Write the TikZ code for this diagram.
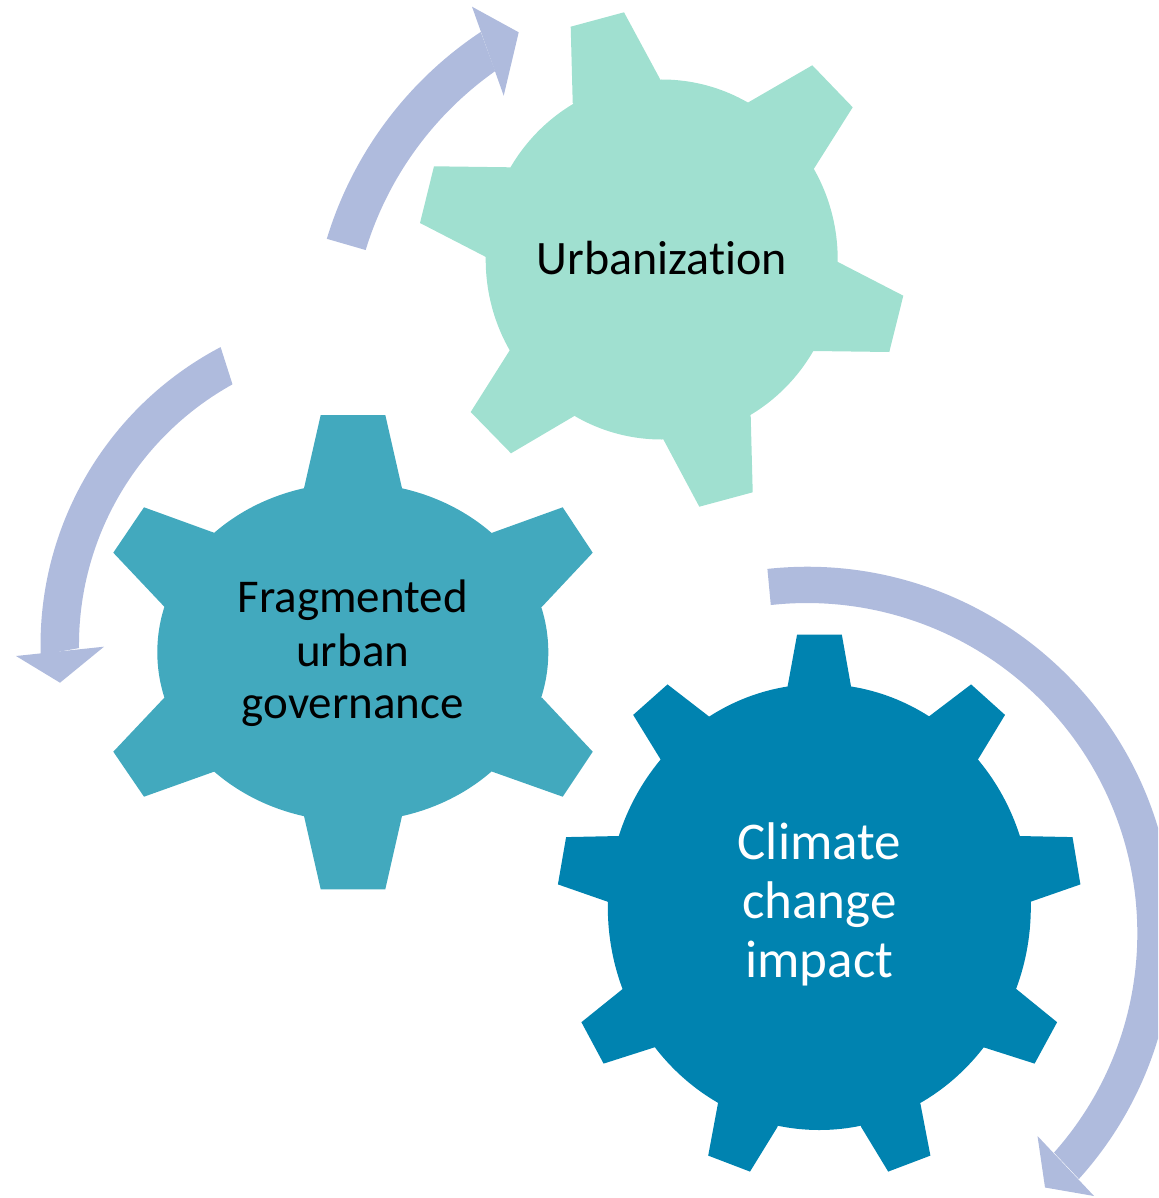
\documentclass[tikz,border=0pt]{standalone}
\usepackage{fontspec}
\setmainfont{Carlito}[Ligatures=NoCommon]
\definecolor{urbfill}{HTML}{A0E0D0}
\definecolor{govfill}{HTML}{42A9BE}
\definecolor{climfill}{HTML}{0083B0}
\definecolor{arrowfill}{HTML}{AFBBDD}
\begin{document}
\begin{tikzpicture}[x=1pt,y=-1pt,
  urbgear/.style={fill=urbfill},
  govgear/.style={fill=govfill},
  climgear/.style={fill=climfill},
  cyclearrow/.style={fill=arrowfill},
  urbtext/.style={anchor=base,inner sep=0pt,text=black,font=\fontsize{48}{58}\selectfont},
  govtext/.style={anchor=base,inner sep=0pt,text=black,font=\fontsize{47}{56}\selectfont},
  climtext/.style={anchor=base,inner sep=0pt,text=white,font=\fontsize{53}{64}\selectfont}]
\useasboundingbox (0,0) rectangle (1158,1198);
\clip (0,0) rectangle (1158,1198);

% ---------- arrows ----------
\fill[cyclearrow] (326.8,238.8) arc[start angle=-163.1,end angle=-123.6,radius=381.5]
  -- (495.2,71.1) arc[start angle=-125.2,end angle=-163.0,radius=341] -- cycle;
\fill[cyclearrow] (472,6.7) -- (518.7,32.3) -- (503.7,95.7) -- cycle;

\fill[cyclearrow] (220.6,347.1) arc[start angle=-117.7,end angle=-181.7,radius=336.5]
  -- (79,648.1) arc[start angle=179.4,end angle=241,radius=298] -- cycle;
\fill[cyclearrow] (16,656) -- (60,682.7) -- (104,646.7) -- cycle;

\fill[cyclearrow] (767.4,568.9) arc[start angle=-96.2,end angle=42.1,radius=366.5]
  -- (1054,1152.6) arc[start angle=41.6,end angle=-96.3,radius=330.3] -- cycle;
\fill[cyclearrow] (1037.5,1136) -- (1045,1187.5) -- (1094,1196) -- cycle;

% ---------- Urbanization gear ----------
\coordinate (uc) at (661.7,259.5);
\fill[urbgear] (uc) ellipse[x radius=176,y radius=180];
\fill[urbgear] (uc) -- (572.7,102.7) -- (570.7,26.7) -- (624,12.3) -- (660,79) -- cycle;
\fill[urbgear] (uc) -- (746.7,103.3) -- (812.3,65.3) -- (852.7,107.3) -- (812.3,171.3) -- cycle;
\fill[urbgear] (uc) -- (836,261) -- (903.3,295.7) -- (889.3,352) -- (813.3,351) -- cycle;
\fill[urbgear] (uc) -- (750.7,416) -- (752.7,492.3) -- (699.3,506.7) -- (663.3,439.3) -- cycle;
\fill[urbgear] (uc) -- (576,415) -- (511,453.3) -- (470.7,412) -- (511,348.3) -- cycle;
\fill[urbgear] (uc) -- (487.3,257.7) -- (420,223) -- (434,166.3) -- (510,167.3) -- cycle;

% ---------- Governance gear ----------
\coordinate (gc) at (352.8,652.2);
\fill[govgear] (gc) ellipse[x radius=195.5,y radius=169.3];
\fill[govgear] (gc) -- (304,488.3) -- (320.7,415) -- (385.3,415) -- (402,488.3) -- cycle;
\fill[govgear] (gc) -- (492.3,532.7) -- (562.7,507.3) -- (592.7,552.7) -- (542,606.7) -- cycle;
\fill[govgear] (gc) -- (542,697.7) -- (592.7,751.7) -- (562.7,796.7) -- (492.3,771.7) -- cycle;
\fill[govgear] (gc) -- (402,816) -- (385.3,889.3) -- (320.7,889.3) -- (304,816) -- cycle;
\fill[govgear] (gc) -- (214,771.7) -- (144,796.7) -- (113.3,751.7) -- (164.3,697.7) -- cycle;
\fill[govgear] (gc) -- (164.3,606.7) -- (113.3,552.7) -- (144,507.3) -- (214,532.7) -- cycle;

% ---------- Climate gear ----------
\coordinate (kc) at (819.3,907);
\fill[climgear] (kc) ellipse[x radius=211.5,y radius=223];
\fill[climgear] (kc) -- (787.5,686.9) -- (797.1,634.5) -- (841.8,634.5) -- (851.1,686.9) -- cycle;
\fill[climgear] (kc) -- (928.6,716.7) -- (971.1,684.4) -- (1005,714.9) -- (977.9,759.6) -- cycle;
\fill[climgear] (kc) -- (1018.9,836) -- (1072.5,837.1) -- (1080.4,884.4) -- (1030.4,901.8) -- cycle;
\fill[climgear] (kc) -- (1016.4,989.1) -- (1057.1,1022.2) -- (1034.6,1063.6) -- (983.6,1047.3) -- cycle;
\fill[climgear] (kc) -- (920.4,1103.6) -- (930.4,1155.6) -- (888.2,1171.6) -- (861.1,1126.9) -- cycle;
\fill[climgear] (kc) -- (777.5,1126.9) -- (750,1171.6) -- (708.2,1155.6) -- (717.9,1103.6) -- cycle;
\fill[climgear] (kc) -- (654.6,1047.3) -- (603.6,1063.6) -- (581.4,1022.2) -- (622.5,989.1) -- cycle;
\fill[climgear] (kc) -- (607.9,901.8) -- (557.9,884.4) -- (566.1,837.1) -- (619.3,836) -- cycle;
\fill[climgear] (kc) -- (660.7,759.6) -- (633.2,714.9) -- (667.5,684.4) -- (709.3,716.7) -- cycle;

% ---------- labels ----------
\node[urbtext] (urb) at (661.7,274) {Urbanization};
\node[govtext] (gov1) at (352.8,612.7) {Fragmented};
\node[govtext] (gov2) at (352.8,666) {urban};
\node[govtext] (gov3) at (352.8,718.3) {governance};
\node[climtext] (clim1) at (819.3,859.3) {Climate};
\node[climtext] (clim2) at (819.3,918.2) {change};
\node[climtext] (clim3) at (819.3,977.1) {impact};
\end{tikzpicture}
\end{document}
